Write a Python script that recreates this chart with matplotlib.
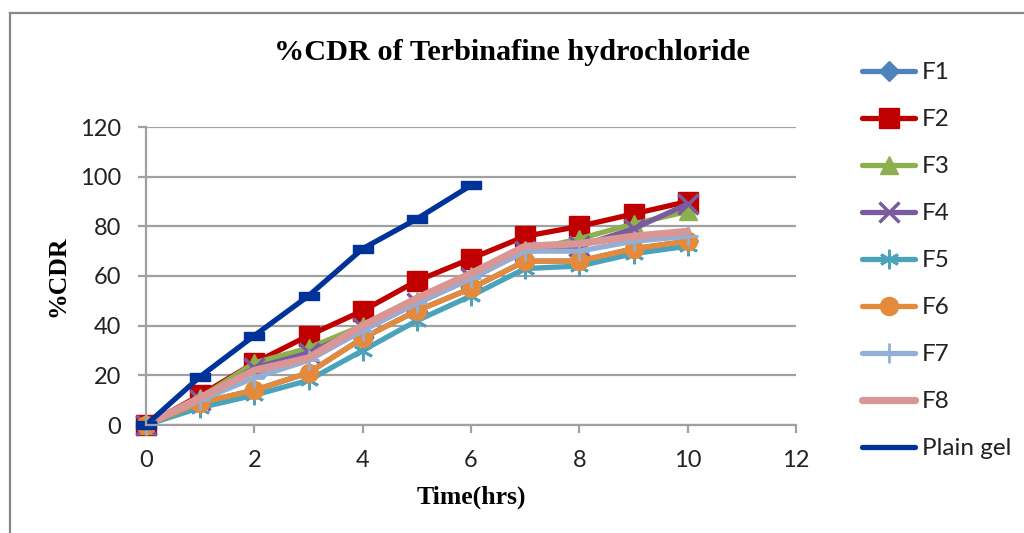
import matplotlib
matplotlib.use("Agg")
import matplotlib.pyplot as plt
from matplotlib.lines import Line2D
from matplotlib.path import Path

# ---- data ----
time_f = [0, 1, 2, 3, 4, 5, 6, 7, 8, 9, 10]
time_gel = [0, 1, 2, 3, 4, 5, 6]
F1 = [0, 9, 14, 21, 35, 46, 55, 66, 66, 71, 74]
F2 = [0, 12, 25, 36, 46, 58, 67, 76, 80, 85, 90]
F3 = [0, 11, 25, 31, 40, 50, 60, 70, 75, 81, 86]
F4 = [0, 10, 23, 29, 39, 49, 59, 70, 72, 79, 89]
F5 = [0, 7, 12, 18, 30, 42, 52, 63, 64, 69, 72]
F6 = [0, 9, 14, 21, 35, 46, 55, 66, 66, 71, 74]
F7 = [0, 10, 19, 26, 38, 49, 59, 70, 70, 74, 76]
F8 = [0, 11, 22, 27, 40, 51, 61, 72, 73, 76, 78]
plain_gel = [0, 19.5, 36, 52, 71, 83, 96.5]

labels = ["F1", "F2", "F3", "F4", "F5", "F6", "F7", "F8", "Plain gel"]
xticks = [0, 2, 4, 6, 8, 10, 12]
yticks = [0, 20, 40, 60, 80, 100, 120]

tick_font = "Lato"
serif = "Liberation Serif"

dash = Path([(-1, -0.4), (1, -0.4), (1, 0.4), (-1, 0.4), (-1, -0.4)],
            [Path.MOVETO, Path.LINETO, Path.LINETO, Path.LINETO, Path.CLOSEPOLY])

styles = [
    dict(color="#4F81BD", marker="D", ms=10, lw=3.8),
    dict(color="#C00000", marker="s", ms=14, lw=3.8),
    dict(color="#8DB04E", marker="^", ms=13, lw=3.8),
    dict(color="#7A5C9E", marker="x", ms=14, lw=3.8, mew=2.5),
    dict(color="#4AA3BB", marker=(6, 2, 0), ms=14, lw=3.8, mew=2),
    dict(color="#E58A3A", marker="o", ms=13, lw=3.8),
    dict(color="#93AFD6", marker="+", ms=14, lw=3.8, mew=2),
    dict(color="#D99694", marker=None, ms=0, lw=5.2),
]
series = [F1, F2, F3, F4, F5, F6, F7, F8]

fig = plt.figure(figsize=(10.24, 5.33), dpi=100)
ax = fig.add_axes([146 / 1024, 1 - 425 / 533, 650 / 1024, 298 / 533])

handles = []
for vals, st, lab in zip(series, styles, labels[:8]):
    kw = dict(color=st["color"], lw=st["lw"], solid_capstyle="round",
              solid_joinstyle="round")
    if st["marker"] is not None:
        kw.update(marker=st["marker"], markersize=st["ms"],
                  markerfacecolor=st["color"], markeredgecolor=st["color"],
                  markeredgewidth=st.get("mew", 1))
    ln, = ax.plot(time_f, vals, **kw)
    handles.append(ln)

ax.plot(time_gel, plain_gel, color="#003399", lw=3.8, marker=dash, ms=15,
        markerfacecolor="#003399", markeredgecolor="#003399",
        solid_capstyle="round")
handles.append(Line2D([], [], color="#003399", lw=3.8, solid_capstyle="round"))

ax.set_xlim(0, 12)
ax.set_ylim(0, 120)
ax.set_xticks(xticks)
ax.set_yticks(yticks)
ax.set_xticklabels([str(v) for v in xticks], fontfamily=tick_font, fontsize=17)
ax.set_yticklabels([str(v) for v in yticks], fontfamily=tick_font, fontsize=17)
ax.yaxis.grid(True, color="#A0A0A0", lw=1.6)
ax.set_axisbelow(True)
for s in ["top", "right"]:
    ax.spines[s].set_visible(False)
for s in ["left", "bottom"]:
    ax.spines[s].set_color("#A0A0A0")
    ax.spines[s].set_linewidth(1.6)
ax.tick_params(axis="x", direction="out", length=6, width=1.6, color="#A0A0A0",
               pad=12, labelcolor="#222222")
ax.tick_params(axis="y", direction="out", length=6, width=1.6, color="#A0A0A0",
               pad=12, labelcolor="#222222")
for ln in ax.lines:
    ln.set_clip_on(False)

fig.text(512 / 1024, 1 - 53 / 533, "%CDR of Terbinafine hydrochloride",
         fontfamily=serif, fontweight="bold", fontsize=21.8, ha="center",
         va="center")
fig.text(471 / 1024, 1 - 497 / 533, "Time(hrs)", fontfamily=serif,
         fontweight="bold", fontsize=18.5, ha="center", va="center")
fig.text(58 / 1024, 1 - 276 / 533, "%CDR", fontfamily=serif, fontweight="bold",
         fontsize=18.5, ha="center", va="center", rotation=90)

leg = fig.legend(handles, labels, loc="upper left",
                 bbox_to_anchor=(862 / 1024, 1 - 62 / 533),
                 frameon=False, borderpad=0, borderaxespad=0,
                 handlelength=2.2, handletextpad=0.25, labelspacing=1.07,
                 prop={"family": tick_font, "size": 17.5})
for t in leg.get_texts():
    t.set_color("#222222")

# outer chart border (left and top visible)
fig.add_artist(Line2D([9.5 / 1024, 9.5 / 1024], [0, 1 - 13 / 533],
                      transform=fig.transFigure, color="#888888", lw=1.6))
fig.add_artist(Line2D([9.5 / 1024, 1], [1 - 13 / 533, 1 - 13 / 533],
                      transform=fig.transFigure, color="#888888", lw=1.6))

fig.savefig("out.png", dpi=100)
